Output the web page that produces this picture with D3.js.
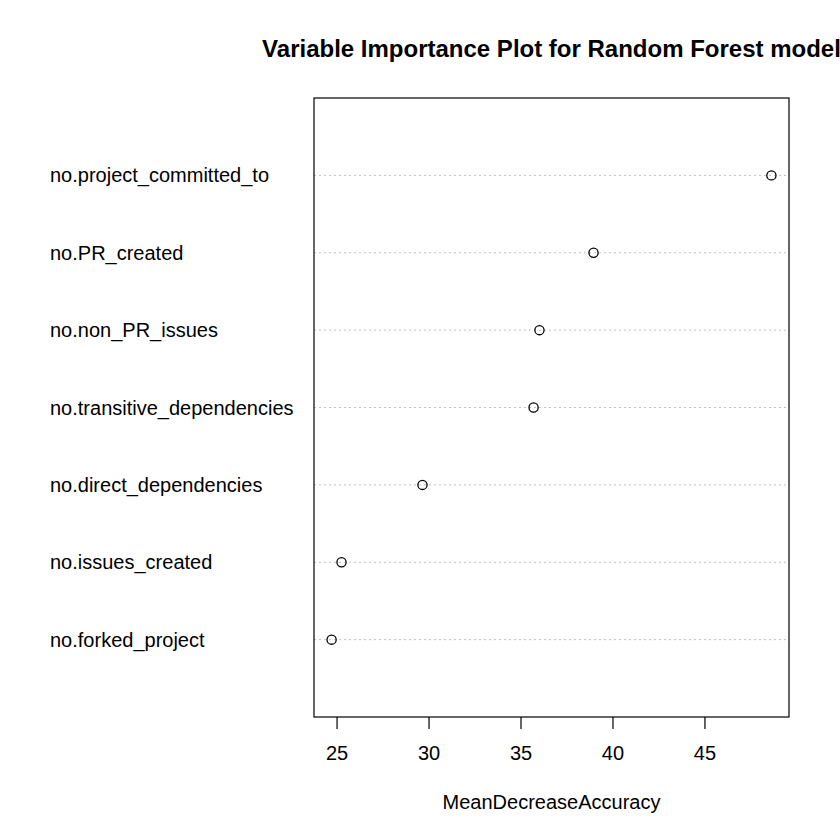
<!DOCTYPE html>
<html><head><meta charset="utf-8">
<script src="https://cdn.jsdelivr.net/npm/d3@7"></script>
<style>body{margin:0;background:#fff;} svg{display:block;font-family:"Liberation Sans",Arial,sans-serif;}</style>
</head><body>
<script>
const variables = ["no.project_committed_to","no.PR_created","no.non_PR_issues","no.transitive_dependencies","no.direct_dependencies","no.issues_created","no.forked_project"];
const importance = [48.64, 38.97, 36.03, 35.71, 29.67, 25.27, 24.73];
const xTicks = [25, 30, 35, 40, 45];
const title = "Variable Importance Plot for Random Forest model";
const xLabel = "MeanDecreaseAccuracy";

const W = 840, H = 840;
const box = {left: 314, right: 789, top: 98, bottom: 717};
const svg = d3.select("body").append("svg").attr("width", W).attr("height", H);

const mn = d3.min(importance), mx = d3.max(importance), pad = (mx - mn) * 0.04;
const x = d3.scaleLinear().domain([mn - pad, mx + pad]).range([box.left, box.right]);
const y = d3.scaleLinear().domain([0, variables.length + 1]).range([box.bottom, box.top]);
const rowY = (i) => y(variables.length - i);

// dotted guide lines
svg.append("g").selectAll("line").data(variables).join("line")
  .attr("x1", box.left).attr("x2", box.right)
  .attr("y1", (d,i) => rowY(i)).attr("y2", (d,i) => rowY(i))
  .attr("stroke", "#c0c0c0").attr("stroke-width", 1).attr("stroke-dasharray", "2,3");

// labels
svg.append("g").selectAll("text").data(variables).join("text")
  .attr("x", 50).attr("y", (d,i) => rowY(i)).attr("dy", "0.35em")
  .attr("font-size", 20).attr("fill", "#000").text(d => d);

// points
svg.append("g").selectAll("circle").data(importance).join("circle")
  .attr("cx", d => x(d)).attr("cy", (d,i) => rowY(i)).attr("r", 4.6)
  .attr("fill", "none").attr("stroke", "#000").attr("stroke-width", 1.3);

// box
svg.append("rect").attr("x", box.left).attr("y", box.top)
  .attr("width", box.right - box.left).attr("height", box.bottom - box.top)
  .attr("fill", "none").attr("stroke", "#000").attr("stroke-width", 1.2);

// x axis
const ax = svg.append("g").attr("transform", `translate(0,${box.bottom})`)
  .call(d3.axisBottom(x).tickValues(xTicks).tickSize(12).tickPadding(17).tickSizeOuter(0));
ax.select(".domain").remove();
ax.selectAll(".tick line").attr("stroke", "#000").attr("stroke-width", 1.2);
ax.selectAll(".tick text").attr("font-size", 20).attr("fill", "#000").attr("font-family", "Liberation Sans, Arial, sans-serif");

svg.append("text").attr("x", (box.left + box.right) / 2).attr("y", 809)
  .attr("text-anchor", "middle").attr("font-size", 20).text(xLabel);

svg.append("text").attr("x", (box.left + box.right) / 2).attr("y", 57)
  .attr("text-anchor", "middle").attr("font-size", 24).attr("font-weight", "bold").text(title);
</script>
</body></html>
